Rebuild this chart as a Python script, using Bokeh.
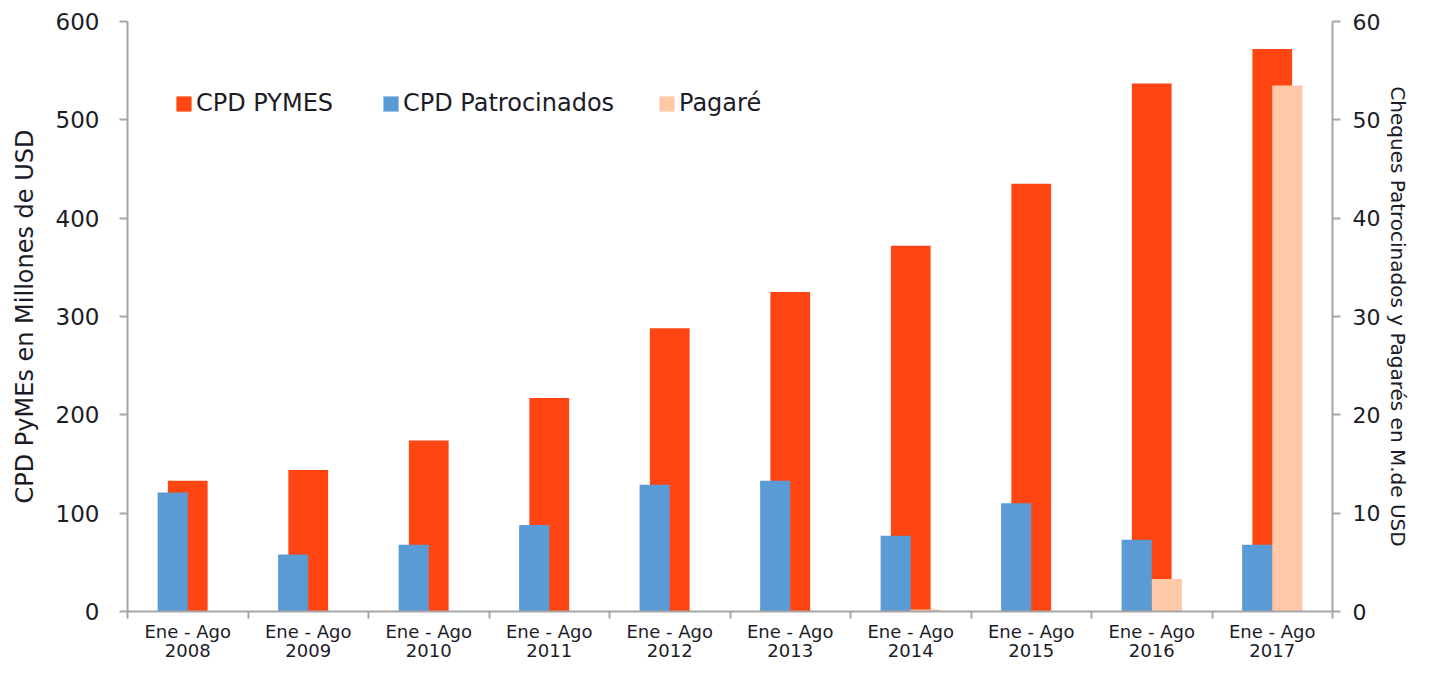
import numpy as np
from bokeh.plotting import figure
from bokeh.models import (Range1d, LinearAxis, FixedTicker, CustomJSTickFormatter,
                          Legend, LegendItem, ColumnDataSource)
from bokeh.embed import file_html
from bokeh.resources import INLINE

periods = ["Ene - Ago\n2008", "Ene - Ago\n2009", "Ene - Ago\n2010", "Ene - Ago\n2011",
           "Ene - Ago\n2012", "Ene - Ago\n2013", "Ene - Ago\n2014", "Ene - Ago\n2015",
           "Ene - Ago\n2016", "Ene - Ago\n2017"]
cpd_pymes = [133, 144, 174, 217, 288, 325, 372, 435, 537, 572]          # left axis
cpd_patrocinados = [12.1, 5.8, 6.8, 8.8, 12.9, 13.3, 7.7, 11.0, 7.3, 6.8]  # right axis
pagare = [0, 0, 0, 0, 0, 0, 0.2, 0, 3.3, 53.5]                          # right axis
left_ticks = [0, 100, 200, 300, 400, 500, 600]
right_ticks = [0, 10, 20, 30, 40, 50, 60]
series_names = ["CPD PYMES", "CPD Patrocinados", "Pagaré"]

RED = "#FF4511"
BLUE = "#5B9BD5"
PEACH = "#FFC9A8"
TXT = "#1c1c28"
AX = "#a6a6a6"
FONT = "DejaVu Sans"

n = len(periods)
centers = np.arange(n) + 0.5
src = ColumnDataSource(dict(x=centers, pymes=cpd_pymes, patro=cpd_patrocinados, pag=pagare,
                            xb=centers - 0.125, xp=centers + 0.125))

p = figure(width=1413, height=664, output_backend="svg", toolbar_location=None,
           x_range=Range1d(0, n), y_range=Range1d(0, 600),
           min_border_left=127, min_border_right=0, min_border_top=21, min_border_bottom=0)
p.extra_y_ranges = {"right": Range1d(0, 60)}
p.outline_line_color = None
p.grid.visible = False
p.background_fill_color = "white"
p.border_fill_color = "white"

r_red = p.vbar(x="x", top="pymes", width=0.33, source=src, fill_color=RED, line_color=None)
r_blue = p.vbar(x="xb", top="patro", width=0.25, source=src, fill_color=BLUE, line_color=None,
                y_range_name="right")
r_peach = p.vbar(x="xp", top="pag", width=0.25, source=src, fill_color=PEACH, line_color=None,
                 y_range_name="right")

# x axis
xa = p.xaxis[0]
xa.ticker = FixedTicker(ticks=list(centers), minor_ticks=list(range(n + 1)))
xa.formatter = CustomJSTickFormatter(args=dict(labels=periods),
                                     code="return labels[Math.floor(tick)];")
xa.major_tick_line_color = None
xa.major_tick_in = 0
xa.major_tick_out = 7
xa.minor_tick_in = 0
xa.minor_tick_out = 7
xa.minor_tick_line_color = AX
xa.minor_tick_line_width = 2
xa.axis_line_color = AX
xa.axis_line_width = 2
xa.major_label_text_font = FONT
xa.major_label_text_font_size = "18px"
xa.major_label_text_line_height = 0.95
xa.major_label_text_color = TXT
xa.major_label_standoff = 2

# left y axis
ya = p.yaxis[0]
ya.ticker = FixedTicker(ticks=left_ticks)
ya.axis_label = "CPD PyMEs en Millones de USD"
ya.axis_label_text_font = FONT
ya.axis_label_text_font_style = "normal"
ya.axis_label_text_font_size = "24px"
ya.axis_label_text_color = TXT
ya.axis_label_standoff = 14
ya.major_label_standoff = 20
ya.major_label_text_font_size = "23px"

yr = LinearAxis(y_range_name="right", ticker=FixedTicker(ticks=right_ticks))
yr.axis_label = "Cheques Patrocinados y Pagarés en M.de USD"
yr.axis_label_text_font = FONT
yr.axis_label_text_font_style = "normal"
yr.axis_label_text_font_size = "20px"
yr.axis_label_text_color = TXT
yr.axis_label_standoff = 3
yr.major_label_standoff = 12
yr.major_label_text_font_size = "22px"
p.add_layout(yr, "right")

for a in (ya, yr):
    a.minor_tick_line_color = None
    a.major_tick_in = 0
    a.major_tick_out = 8
    a.major_tick_line_color = AX
    a.major_tick_line_width = 2
    a.axis_line_color = AX
    a.axis_line_width = 2
    a.major_label_text_font = FONT
    a.major_label_text_color = TXT

renderers = [r_red, r_blue, r_peach]
legend_x = [47, 254, 530]
for name, r, lx in zip(series_names, renderers, legend_x):
    lg = Legend(items=[LegendItem(label=name, renderers=[r])],
                orientation="horizontal", location=(lx, 494))
    lg.background_fill_alpha = 0
    lg.border_line_color = None
    lg.glyph_width = 19
    lg.glyph_height = 19
    lg.label_text_font = FONT
    lg.label_text_font_size = "24px"
    lg.label_text_color = TXT
    lg.label_standoff = 3
    lg.padding = 0
    lg.margin = 0
    p.add_layout(lg, "center")

open("out.html", "w").write(file_html(p, INLINE))
